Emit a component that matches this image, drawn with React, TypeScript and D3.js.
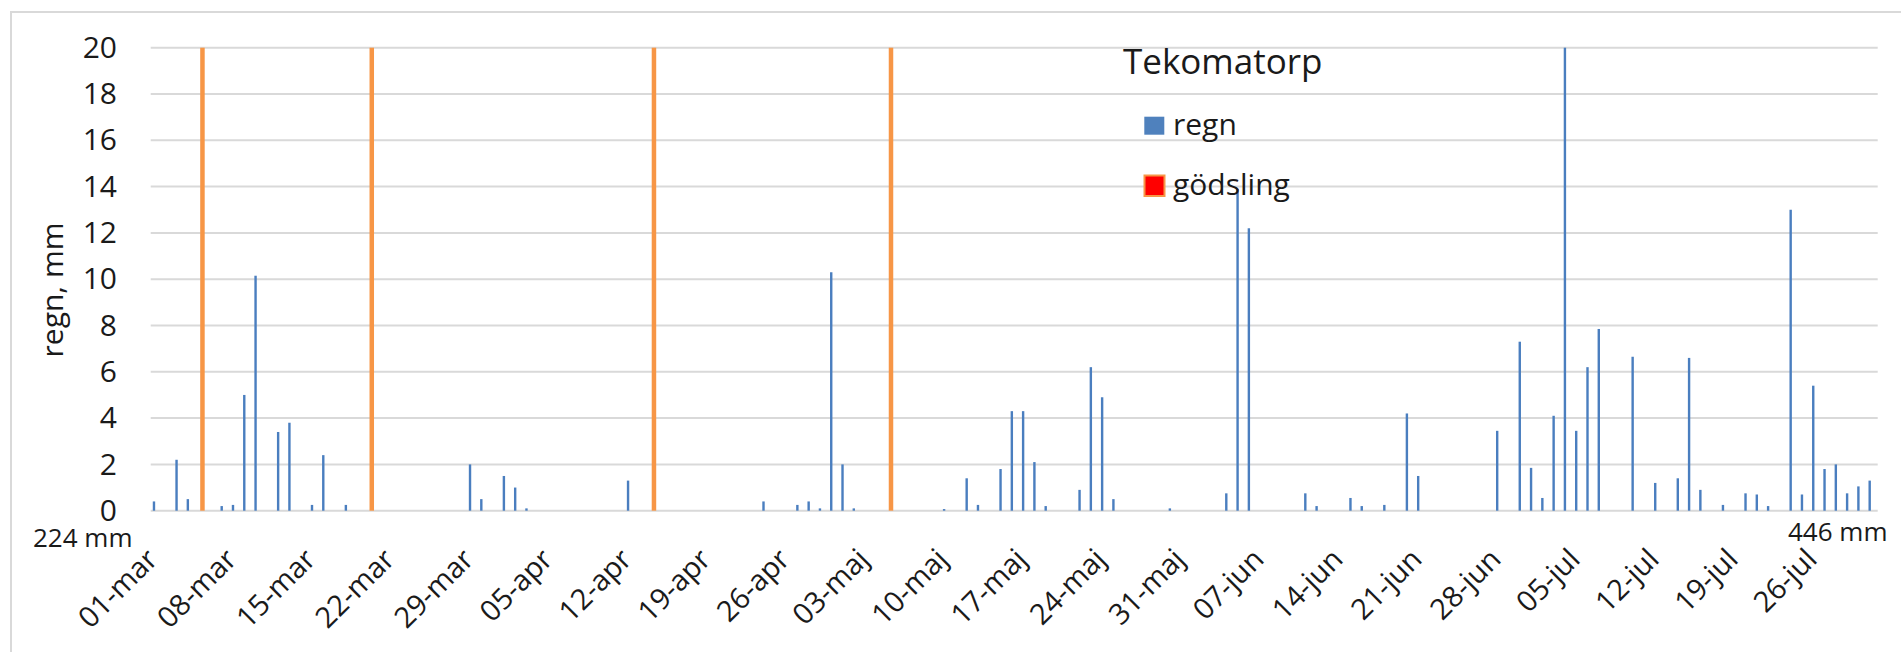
import React, { FC, RefObject, useEffect, useRef } from "react"
import { axisLeft, scaleBand, scaleLinear, select } from "d3"

// categories: one per day, 01-mar .. 31-jul
const monthNames = ["mar", "apr", "maj", "jun", "jul"]

// daily rain, mm (one array per month)
const marchRain = [
  0.4, 0, 2.2, 0.5, 0, 0, 0.2, 0.25, 5.0, 10.15, 0, 3.4, 3.8, 0, 0.25, 2.4, 0,
  0.25, 0, 0, 0, 0, 0, 0, 0, 0, 0, 0, 2.0, 0.5, 0,
]
const aprilRain = [
  1.5, 1.0, 0.1, 0, 0, 0, 0, 0, 0, 0, 0, 1.3, 0, 0, 0, 0, 0, 0, 0, 0, 0, 0, 0,
  0.4, 0, 0, 0.25, 0.4, 0.1, 10.3,
]
const mayRain = [
  2.0, 0.1, 0, 0, 0, 0, 0, 0, 0, 0.07, 0, 1.4, 0.25, 0, 1.8, 4.3, 4.3, 2.1, 0.2,
  0, 0, 0.9, 6.2, 4.9, 0.5, 0, 0, 0, 0, 0.1, 0,
]
const juneRain = [
  0, 0, 0, 0.75, 13.9, 12.2, 0, 0, 0, 0, 0.75, 0.2, 0, 0, 0.55, 0.2, 0, 0.25, 0,
  4.2, 1.5, 0, 0, 0, 0, 0, 0, 3.45, 0, 7.3,
]
const julyRain = [
  1.85, 0.55, 4.1, 20, 3.45, 6.2, 7.85, 0, 0, 6.65, 0, 1.2, 0, 1.4, 6.6, 0.9, 0,
  0.25, 0, 0.75, 0.7, 0.2, 0, 13.0, 0.7, 5.4, 1.8, 2.0, 0.75, 1.05, 1.3,
]
const rainByMonth = [marchRain, aprilRain, mayRain, juneRain, julyRain]

// fertilising days (drawn as full-height bars)
const fertilisingDays = ["05-mar", "20-mar", "14-apr", "05-maj"]
const fertilisingValue = 20

const yTicks = [0, 2, 4, 6, 8, 10, 12, 14, 16, 18, 20]
const yTitle = "regn, mm"
const legendTitle = "Tekomatorp"
const seriesNames = ["regn", "gödsling"]
const totalStart = "224 mm"
const totalEnd = "446 mm"

type D = {
  day: string
  rain: number
}

const font = "'Open Sans', 'DejaVu Sans', sans-serif"

const App: FC = () => {
  const svgRef = useRef<SVGSVGElement>(null)

  useEffect(() => {
    drawChart(svgRef)
  }, [])

  const drawChart = (svgRef: RefObject<SVGSVGElement>) => {
    const width = 1901
    const height = 652
    const plot = { left: 150.7, right: 1877.7, top: 47.7, bottom: 510.7 }

    const data: D[] = rainByMonth.flatMap((month, m) =>
      month.map((rain, i) => ({
        day: `${String(i + 1).padStart(2, "0")}-${monthNames[m]}`,
        rain,
      })),
    )

    const svg = select(svgRef.current)
    svg.selectAll("*").remove()
    svg.attr("width", width).attr("height", height)

    // chart area border (cropped at right and bottom)
    svg
      .append("path")
      .attr("d", `M11,${height} V12 H${width}`)
      .attr("fill", "none")
      .attr("stroke", "#d9d9d9")
      .attr("stroke-width", 2)

    // scales
    const xScale = scaleBand<string>()
      .domain(data.map((d) => d.day))
      .range([plot.left, plot.right])
      .padding(0)
    const bw = xScale.bandwidth()
    const yScale = scaleLinear().domain([0, 20]).range([plot.bottom, plot.top])

    // gridlines
    svg
      .append("g")
      .selectAll("line")
      .data(yTicks)
      .join("line")
      .attr("x1", plot.left)
      .attr("x2", plot.right)
      .attr("y1", (d) => yScale(d))
      .attr("y2", (d) => yScale(d))
      .attr("stroke", "#d9d9d9")
      .attr("stroke-width", 2)

    // y axis
    const yAxis = svg
      .append("g")
      .attr("transform", `translate(${plot.left},0)`)
      .call(axisLeft(yScale).tickValues(yTicks).tickSize(0).tickPadding(33.7))
    yAxis.select(".domain").remove()
    yAxis
      .selectAll("text")
      .attr("font-family", font)
      .attr("font-size", 30)
      .attr("fill", "#1a1a1a")

    // y title
    svg
      .append("text")
      .attr("transform", "translate(63,290) rotate(-90)")
      .attr("text-anchor", "middle")
      .attr("font-family", font)
      .attr("font-size", 30)
      .attr("fill", "#1a1a1a")
      .text(yTitle)

    // fertilising bars
    svg
      .append("g")
      .selectAll("rect")
      .data(fertilisingDays)
      .join("rect")
      .attr("x", (d) => (xScale(d) ?? 0) + bw * 0.585 - 2.25)
      .attr("width", 4.5)
      .attr("y", yScale(fertilisingValue))
      .attr("height", yScale(0) - yScale(fertilisingValue))
      .attr("fill", "#f79646")

    // rain bars
    svg
      .append("g")
      .selectAll("rect")
      .data(data.filter((d) => d.rain > 0))
      .join("rect")
      .attr("x", (d) => (xScale(d.day) ?? 0) + bw * 0.29 - 1.2)
      .attr("width", 2.4)
      .attr("y", (d) => yScale(d.rain))
      .attr("height", (d) => yScale(0) - yScale(d.rain))
      .attr("fill", "#4a7ebf")

    // x labels, every 7th day
    svg
      .append("g")
      .selectAll("text")
      .data(data.filter((_, i) => i % 7 === 0))
      .join("text")
      .attr(
        "transform",
        (d) => `translate(${(xScale(d.day) ?? 0) + bw / 2 + 3},561) rotate(-45)`,
      )
      .attr("text-anchor", "end")
      .attr("font-family", font)
      .attr("font-size", 29)
      .attr("fill", "#1a1a1a")
      .text((d) => d.day)

    // totals
    svg
      .append("text")
      .attr("x", 33)
      .attr("y", 547)
      .attr("font-family", font)
      .attr("font-size", 26)
      .attr("fill", "#1a1a1a")
      .text(totalStart)
    svg
      .append("text")
      .attr("x", 1788)
      .attr("y", 540.5)
      .attr("font-family", font)
      .attr("font-size", 26)
      .attr("fill", "#1a1a1a")
      .text(totalEnd)

    // legend
    const legend = svg.append("g")
    legend
      .append("text")
      .attr("x", 1123)
      .attr("y", 74)
      .attr("font-family", font)
      .attr("font-size", 35)
      .attr("fill", "#1a1a1a")
      .text(legendTitle)
    legend
      .append("rect")
      .attr("x", 1144.3)
      .attr("y", 116.7)
      .attr("width", 20)
      .attr("height", 18)
      .attr("fill", "#4f81bd")
    legend
      .append("rect")
      .attr("x", 1144.5)
      .attr("y", 175.5)
      .attr("width", 20)
      .attr("height", 20.5)
      .attr("fill", "#ff0000")
      .attr("stroke", "#f79646")
      .attr("stroke-width", 2)
    legend
      .selectAll("text.item")
      .data(seriesNames)
      .join("text")
      .attr("class", "item")
      .attr("x", 1173)
      .attr("y", (_, i) => 135 + i * 60)
      .attr("font-family", font)
      .attr("font-size", 30)
      .attr("fill", "#1a1a1a")
      .text((d) => d)
  }

  return (
    <svg
      ref={svgRef}
      style={{ position: "absolute", left: 0, top: 0, background: "#fff" }}
    />
  )
}

export default App
